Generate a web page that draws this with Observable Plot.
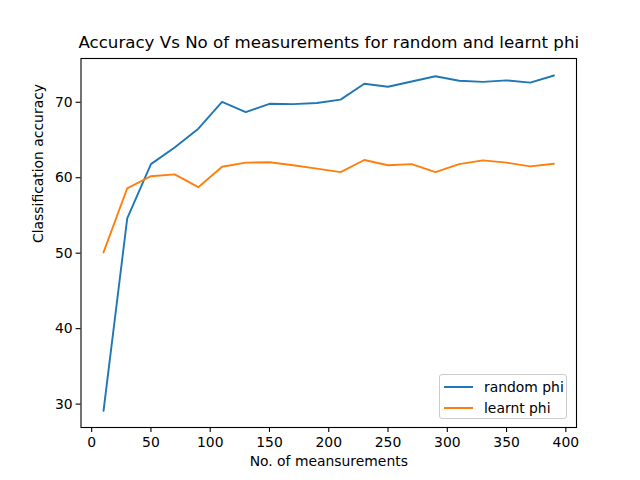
<!DOCTYPE html>
<html>
<head>
<meta charset="utf-8">
<script src="https://cdn.jsdelivr.net/npm/d3@7"></script>
<script src="https://cdn.jsdelivr.net/npm/@observablehq/plot@0.6"></script>
<style>
  html, body { margin: 0; padding: 0; background: #fff; }
  #wrap { position: relative; width: 640px; height: 480px; font-family: "DejaVu Sans", sans-serif; }
  #legend { position: absolute; left: 439px; top: 374px; width: 128px; height: 45px;
    border: 1px solid #cccccc; border-radius: 3px; background: rgba(255,255,255,0.8);
    font-size: 13.9px; color: #000; box-sizing: border-box; }
  .item { position: absolute; left: 4px; height: 16px; display: flex; align-items: center; }
  .swatch { width: 29px; height: 2px; margin-right: 11px; }
</style>
</head>
<body>
<div id="wrap"></div>
<script>
const measurements = [10, 30, 50, 70, 90, 110, 130, 150, 170, 190, 210, 230, 250, 270, 290, 310, 330, 350, 370, 390];
const randomPhi = [29.1, 54.6, 61.8, 64.0, 66.5, 70.05, 68.7, 69.8, 69.75, 69.9, 70.35, 72.45, 72.05, 72.75, 73.45, 72.85, 72.7, 72.9, 72.6, 73.55];
const learntPhi = [50.1, 58.6, 60.2, 60.45, 58.75, 61.45, 62.0, 62.05, 61.65, 61.2, 60.75, 62.35, 61.65, 61.8, 60.75, 61.8, 62.3, 62.0, 61.5, 61.85];
const seriesNames = ["random phi", "learnt phi"];
const seriesColors = ["#1f77b4", "#ff7f0e"];
const xTicks = [0, 50, 100, 150, 200, 250, 300, 350, 400];
const yTicks = [30, 40, 50, 60, 70];
const title = "Accuracy Vs No of measurements for random and learnt phi";
const xLabel = "No. of meansurements";
const yLabel = "Classification accuracy";

const rows = [];
measurements.forEach((m, i) => {
  rows.push({x: m, y: randomPhi[i], s: seriesNames[0]});
  rows.push({x: m, y: learntPhi[i], s: seriesNames[1]});
});

const chart = Plot.plot({
  width: 640,
  height: 480,
  marginLeft: 80.5,
  marginRight: 64,
  marginTop: 58,
  marginBottom: 53,
  style: {fontFamily: "DejaVu Sans, sans-serif", fontSize: "13.9px", color: "#000", background: "#fff"},
  x: {domain: [-9, 409]},
  y: {domain: [26.9, 75.8]},
  color: {domain: seriesNames, range: seriesColors},
  marks: [
    Plot.line(rows, {x: "x", y: "y", z: "s", stroke: "s", strokeWidth: 1.9}),
    Plot.frame({stroke: "#000", strokeWidth: 1.1}),
    Plot.axisX({ticks: xTicks, tickSize: 4.9, tickPadding: 5, fontSize: 13.9, label: null, strokeWidth: 1.1}),
    Plot.axisY({ticks: yTicks, tickSize: 4.9, tickPadding: 3.5, fontSize: 13.9, label: null, strokeWidth: 1.1}),
    Plot.text([title], {frameAnchor: "top", dy: -11, lineAnchor: "bottom", fontSize: 16.67, text: d => d}),
    Plot.text([xLabel], {frameAnchor: "bottom", dy: 29, lineAnchor: "top", fontSize: 13.9, text: d => d}),
    Plot.text([yLabel], {frameAnchor: "left", dx: -42, rotate: -90, fontSize: 13.9, text: d => d})
  ]
});

const wrap = document.getElementById("wrap");
wrap.appendChild(chart);

const legend = document.createElement("div");
legend.id = "legend";
seriesNames.forEach((name, i) => {
  const item = document.createElement("div");
  item.className = "item";
  item.style.top = (4 + i * 21) + "px";
  const sw = document.createElement("span");
  sw.className = "swatch";
  sw.style.background = seriesColors[i];
  const tx = document.createElement("span");
  tx.textContent = name;
  item.appendChild(sw);
  item.appendChild(tx);
  legend.appendChild(item);
});
wrap.appendChild(legend);
</script>
</body>
</html>
